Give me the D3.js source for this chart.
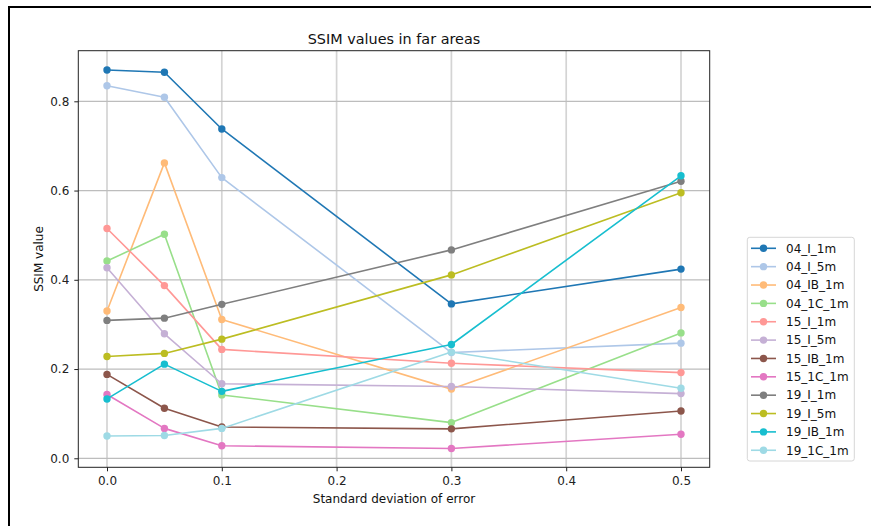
<!DOCTYPE html>
<html>
<head>
<meta charset="utf-8">
<script src="https://cdn.jsdelivr.net/npm/d3@7"></script>
<style>
  html, body { margin: 0; padding: 0; background: #fff; }
  svg { display: block; font-family: "DejaVu Sans", sans-serif; }
</style>
</head>
<body>
<svg id="chart" width="871" height="526"></svg>
<script>
// Standard deviation of error (x positions shared by every series)
const sigmas = [0.0, 0.05, 0.1, 0.3, 0.5];

// Series names, in legend order
const seriesNames = ["04_I_1m", "04_I_5m", "04_IB_1m", "04_1C_1m", "15_I_1m", "15_I_5m",
                     "15_IB_1m", "15_1C_1m", "19_I_1m", "19_I_5m", "19_IB_1m", "19_1C_1m"];

// SSIM values per series
const s04_I_1m  = [0.870, 0.865, 0.738, 0.346, 0.424];
const s04_I_5m  = [0.835, 0.809, 0.629, 0.237, 0.258];
const s04_IB_1m = [0.330, 0.662, 0.311, 0.155, 0.338];
const s04_1C_1m = [0.442, 0.502, 0.142, 0.080, 0.281];
const s15_I_1m  = [0.515, 0.387, 0.244, 0.213, 0.192];
const s15_I_5m  = [0.427, 0.279, 0.167, 0.161, 0.145];
const s15_IB_1m = [0.188, 0.112, 0.070, 0.066, 0.106];
const s15_1C_1m = [0.143, 0.067, 0.028, 0.022, 0.054];
const s19_I_1m  = [0.309, 0.314, 0.345, 0.467, 0.621];
const s19_I_5m  = [0.228, 0.235, 0.267, 0.411, 0.595];
const s19_IB_1m = [0.133, 0.211, 0.150, 0.255, 0.633];
const s19_1C_1m = [0.050, 0.051, 0.067, 0.238, 0.157];

const seriesValues = [s04_I_1m, s04_I_5m, s04_IB_1m, s04_1C_1m, s15_I_1m, s15_I_5m,
                      s15_IB_1m, s15_1C_1m, s19_I_1m, s19_I_5m, s19_IB_1m, s19_1C_1m];

const xTicks = [0.0, 0.1, 0.2, 0.3, 0.4, 0.5];
const yTicks = [0.0, 0.2, 0.4, 0.6, 0.8];

// tab20-style palette, one colour per series
const colors = ["#1f77b4", "#aec7e8", "#ffbb78", "#98df8a", "#ff9896", "#c5b0d5",
                "#8c564b", "#e377c2", "#7f7f7f", "#bcbd22", "#17becf", "#9edae5"];

const svg = d3.select("#chart");
const plot = { left: 78.3, right: 709.7, top: 50.7, bottom: 467.3 };

const x = d3.scaleLinear().domain([-0.025, 0.525]).range([plot.left, plot.right]);
const y = d3.scaleLinear().domain([-0.0202, 0.9134]).range([plot.bottom, plot.top]);

// Outer figure frame
svg.append("rect")
  .attr("x", 9).attr("y", 7).attr("width", 900).attr("height", 560)
  .attr("fill", "none").attr("stroke", "#000").attr("stroke-width", 2);

// Grid
const grid = svg.append("g");
grid.selectAll("line.gx").data(xTicks).join("line")
  .attr("x1", d => x(d)).attr("x2", d => x(d))
  .attr("y1", plot.top).attr("y2", plot.bottom)
  .attr("stroke", "#d4d4d4").attr("stroke-width", 1.7);
grid.selectAll("line.gy").data(yTicks).join("line")
  .attr("x1", plot.left).attr("x2", plot.right)
  .attr("y1", d => y(d)).attr("y2", d => y(d))
  .attr("stroke", "#bdbdbd").attr("stroke-width", 1.2);

// Axes
const fmt = d3.format(".1f");
const xAxis = svg.append("g")
  .attr("transform", `translate(0,${plot.bottom})`)
  .call(d3.axisBottom(x).tickValues(xTicks).tickFormat(fmt).tickSize(4).tickPadding(5).tickSizeOuter(0));
const yAxis = svg.append("g")
  .attr("transform", `translate(${plot.left},0)`)
  .call(d3.axisLeft(y).tickValues(yTicks).tickFormat(fmt).tickSize(4).tickPadding(5).tickSizeOuter(0));
[xAxis, yAxis].forEach(g => {
  g.select(".domain").remove();
  g.selectAll(".tick line").attr("stroke", "#222").attr("stroke-width", 1);
  g.selectAll(".tick text").attr("fill", "#222").style("font-size", "12px")
    .style("font-family", "DejaVu Sans, sans-serif");
});

// Lines and markers
const line = d3.line().x((d, i) => x(sigmas[i])).y(d => y(d));
const series = svg.append("g");
seriesValues.forEach((vals, k) => {
  const g = series.append("g");
  g.append("path").datum(vals)
    .attr("d", line).attr("fill", "none")
    .attr("stroke", colors[k]).attr("stroke-width", 1.6)
    .attr("stroke-linejoin", "round");
  g.selectAll("circle").data(vals).join("circle")
    .attr("cx", (d, i) => x(sigmas[i])).attr("cy", d => y(d))
    .attr("r", 3.7).attr("fill", colors[k]);
});

// Axes frame
svg.append("rect")
  .attr("x", plot.left).attr("y", plot.top)
  .attr("width", plot.right - plot.left).attr("height", plot.bottom - plot.top)
  .attr("fill", "none").attr("stroke", "#222").attr("stroke-width", 1);

// Title and axis labels
svg.append("text")
  .attr("x", (plot.left + plot.right) / 2).attr("y", 44)
  .attr("text-anchor", "middle").style("font-size", "14.4px").attr("fill", "#111")
  .text("SSIM values in far areas");
svg.append("text")
  .attr("x", (plot.left + plot.right) / 2).attr("y", 503)
  .attr("text-anchor", "middle").style("font-size", "12px").attr("fill", "#111")
  .text("Standard deviation of error");
svg.append("text")
  .attr("transform", `translate(43,${(plot.top + plot.bottom) / 2}) rotate(-90)`)
  .attr("text-anchor", "middle").style("font-size", "12px").attr("fill", "#111")
  .text("SSIM value");

// Legend
const legend = svg.append("g");
legend.append("rect")
  .attr("x", 747.3).attr("y", 237.3).attr("width", 107).attr("height", 223.7)
  .attr("rx", 2.5).attr("fill", "#fff").attr("stroke", "#d6d6d6").attr("stroke-width", 1);
seriesNames.forEach((name, k) => {
  const cy = 248.3 + k * 18.36;
  legend.append("line")
    .attr("x1", 751).attr("x2", 776).attr("y1", cy).attr("y2", cy)
    .attr("stroke", colors[k]).attr("stroke-width", 1.6);
  legend.append("circle").attr("cx", 763.5).attr("cy", cy).attr("r", 3.7).attr("fill", colors[k]);
  legend.append("text")
    .attr("x", 786).attr("y", cy + 4.3)
    .style("font-size", "12px").attr("fill", "#111")
    .text(name);
});
</script>
</body>
</html>
